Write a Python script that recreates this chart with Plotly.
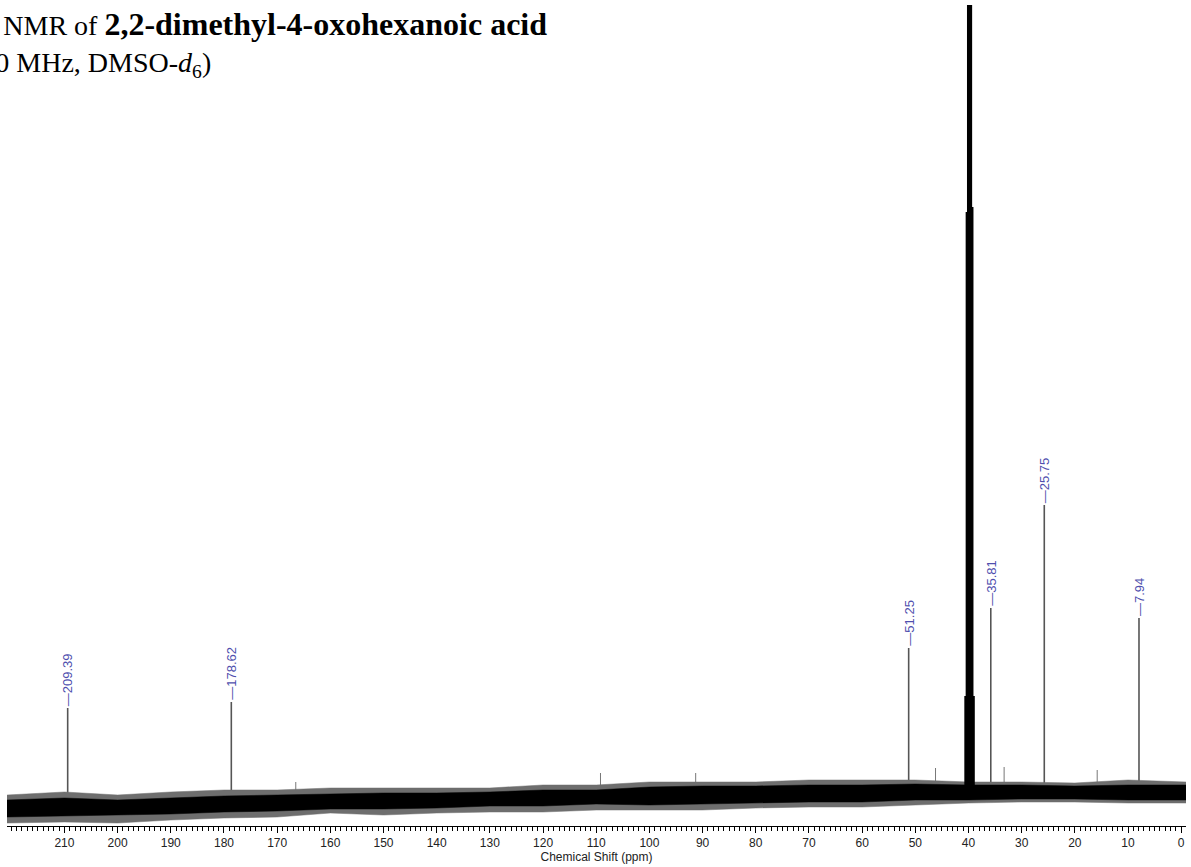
import plotly.graph_objects as go

# ---- data ----
peak_ppm = [209.39, 178.62, 51.25, 35.81, 25.75, 7.94]
peak_top = [118, 124, 178, 218, 321, 208]
peak_base = [18, 22, 33, 34, 34, 34]
peak_labels = ["209.39", "178.62", "51.25", "35.81", "25.75", "7.94"]

# DMSO-d6 solvent septet
dmso_ppm = [40.55, 40.30, 40.05, 39.80, 39.55, 39.30, 39.05]
dmso_top = [130, 614, 1500, 2000, 1500, 619, 130]

# small noise spikes
spike_ppm = [166.5, 109.2, 91.3, 46.2, 33.3, 15.8]
spike_top = [44, 53, 53, 58, 59, 56]

# baseline noise envelopes (outer spikes and dense core)
noise_ppm = [220.8, 210, 200, 190, 180, 170, 160, 150, 140, 130, 120, 110,
             100, 90, 80, 70, 60, 50, 40, 30, 20, 10, -0.9]
outer_hi = [31, 34, 31, 34, 36, 36, 38, 38, 38, 38, 41, 41,
            44, 44, 44, 46, 46, 46, 44, 44, 43, 46, 44]
outer_lo = [3, 4, 3, 6, 8, 9, 13, 11, 13, 14, 14, 16,
            16, 16, 18, 19, 19, 21, 23, 24, 24, 23, 23]
core_hi = [26, 28, 26, 28, 30, 31, 32, 33, 33, 34, 36, 36,
           39, 40, 40, 41, 41, 42, 41, 41, 40, 41, 41]
core_lo = [9, 10, 11, 12, 14, 15, 17, 17, 18, 20, 20, 22,
           21, 22, 23, 24, 24, 26, 26, 27, 27, 26, 26]

tick_vals = list(range(0, 211, 10))
tick_text = [str(v) for v in tick_vals]

fig = go.Figure()

def sticks(xs, bases, tops):
    X, Y = [], []
    for x, b, t in zip(xs, bases, tops):
        X += [x, x, None]
        Y += [b, t, None]
    return X, Y

# noise spikes
sx, sy = sticks(spike_ppm, [30] * len(spike_ppm), spike_top)
fig.add_trace(go.Scatter(x=sx, y=sy, mode="lines",
                         line=dict(color="#777777", width=1), hoverinfo="skip"))

# peaks
px, py = sticks(peak_ppm, peak_base, peak_top)
fig.add_trace(go.Scatter(x=px, y=py, mode="lines",
                         line=dict(color="#555555", width=1.6), hoverinfo="skip"))

# outer noise band
fig.add_trace(go.Scatter(x=noise_ppm + noise_ppm[::-1],
                         y=outer_hi + outer_lo[::-1],
                         fill="toself", fillcolor="#6e6e6e",
                         line=dict(color="#6e6e6e", width=0.5),
                         mode="lines", hoverinfo="skip"))
# dense core band
fig.add_trace(go.Scatter(x=noise_ppm + noise_ppm[::-1],
                         y=core_hi + core_lo[::-1],
                         fill="toself", fillcolor="#000000",
                         line=dict(color="#000000", width=0.5),
                         mode="lines", hoverinfo="skip"))

# DMSO septet
dx, dy = sticks(dmso_ppm, [30] * len(dmso_ppm), dmso_top)
fig.add_trace(go.Scatter(x=dx, y=dy, mode="lines",
                         line=dict(color="#000000", width=2.5), hoverinfo="skip"))

# peak labels
for x, t, lab in zip(peak_ppm, peak_top, peak_labels):
    fig.add_annotation(x=x, y=t, text="\u2014" + lab, showarrow=False,
                       textangle=-90, xanchor="center", yanchor="bottom",
                       yshift=0, font=dict(family="Liberation Sans, Arial", size=13,
                                           color="#4f4fae"))

# title
fig.add_annotation(xref="paper", yref="paper", x=-0.0435, y=0.9765,
                   xanchor="left", yanchor="middle", showarrow=False, align="left",
                   text="<sup>13</sup>C NMR of <span style='font-size:32px'><b>2,2-dimethyl-4-oxohexanoic acid</b></span>",
                   font=dict(family="Liberation Serif, Times New Roman", size=28, color="#000000"))
fig.add_annotation(xref="paper", yref="paper", x=-0.0435, y=0.928,
                   xanchor="left", yanchor="middle", showarrow=False, align="left",
                   text="(100 MHz, DMSO-<i>d</i><sub>6</sub>)",
                   font=dict(family="Liberation Serif, Times New Roman", size=28, color="#000000"))

fig.update_layout(
    width=1191, height=867,
    margin=dict(l=7, r=5, t=5, b=41, autoexpand=False),
    paper_bgcolor="white", plot_bgcolor="white",
    showlegend=False,
    hovermode=False,
    xaxis=dict(range=[220.8, -0.9], showgrid=False, zeroline=False,
               showline=True, linecolor="#000000", linewidth=1,
               ticks="outside", ticklen=6, tickwidth=1, tickcolor="#000000",
               tickmode="array", tickvals=tick_vals, ticktext=tick_text,
               tickfont=dict(family="Liberation Sans, Arial", size=12, color="#222222"),
               minor=dict(dtick=1, ticks="outside", ticklen=4, tickcolor="#000000", showgrid=False),
               title=dict(text="Chemical Shift (ppm)", standoff=2,
                          font=dict(family="Liberation Sans, Arial", size=12, color="#222222")),
               automargin=False),
    yaxis=dict(range=[0, 821], visible=False, showgrid=False, zeroline=False),
)

fig.write_html("out.html", config={"displayModeBar": False},
               post_script="document.body.style.margin='0px';document.body.style.overflow='hidden';")
